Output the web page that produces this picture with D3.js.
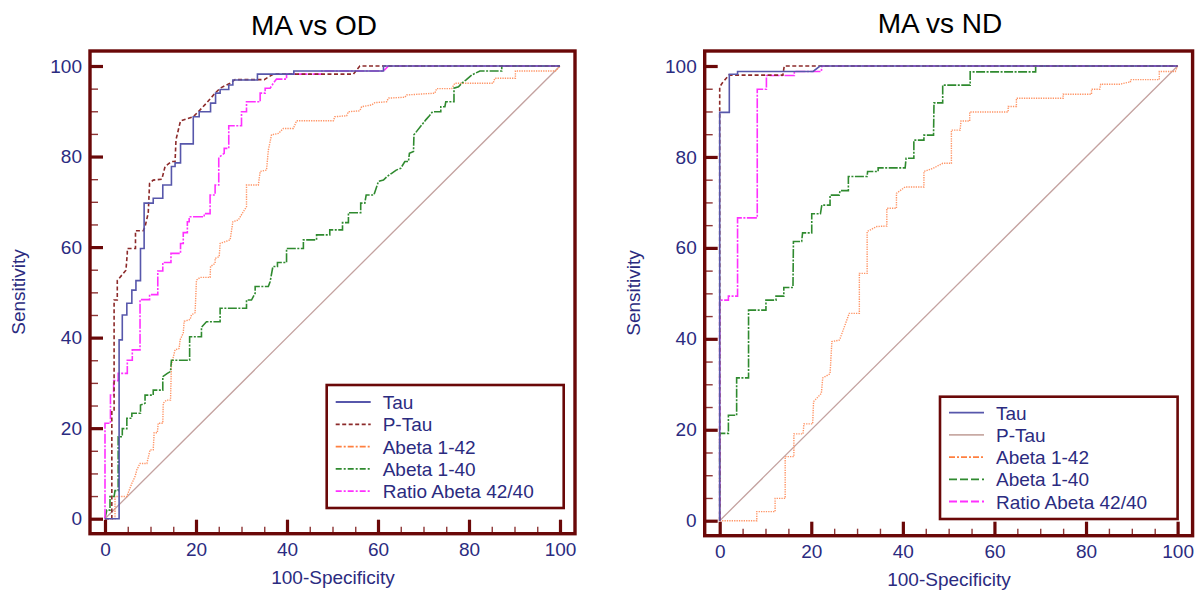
<!DOCTYPE html>
<html>
<head>
<meta charset="utf-8">
<script src="https://cdn.jsdelivr.net/npm/d3@7/dist/d3.min.js"></script>
<style>
  html, body { margin: 0; padding: 0; background: #fff; }
  svg { display: block; font-family: "Liberation Sans", Arial, sans-serif; }
</style>
</head>
<body>
<svg id="chart" width="1198" height="592"></svg>
<script>
// axis ticks
const majorTicks = [0, 20, 40, 60, 80, 100];
const minorTicks = [5, 10, 15, 25, 30, 35, 45, 50, 55, 65, 70, 75, 85, 90, 95];
const legendLabels = ["Tau", "P-Tau", "Abeta 1-42", "Abeta 1-40", "Ratio Abeta 42/40"];
const diagonal = [[0, 0], [100, 100]];

// ROC curves, [100-Specificity, Sensitivity] : MA vs OD
const tauOD = [[0,0],[3.1,0],[3.1,39.5],[3.8,39.5],[3.8,45],[4.8,45],[4.8,47.6],[5.9,47.6],[5.9,50.5],[6.8,50.5],[6.8,52.6],[7.8,52.6],[7.8,59.7],[8.6,59.7],[8.6,69.7],[10.6,69.7],[10.6,70.8],[12.7,70.8],[12.7,73.7],[14.6,73.7],[14.6,77.8],[15.4,77.8],[15.4,78.6],[16.6,78.6],[16.6,82.8],[19.4,82.8],[19.4,88.8],[20.7,88.8],[20.7,89.9],[23.2,89.9],[23.2,91.8],[24.3,91.8],[24.3,94],[25.3,94],[25.3,94.8],[27.2,94.8],[27.2,95.8],[28.1,95.8],[28.1,96.9],[33.5,96.9],[33.5,98.2],[41.5,98.2],[41.5,98.9],[61.2,98.9],[61.2,100],[100,100]];
const pTauOD = [[0,0],[1.5,0],[1.5,24],[2.0,24],[2.0,48.3],[2.7,48.3],[2.7,52.6],[4.6,54.9],[4.9,58.6],[4.9,59.7],[6.7,59.7],[6.7,63.6],[8.4,63.6],[8.8,64.5],[9.5,67.5],[9.8,74.1],[10.6,74.8],[12.5,75],[13.2,77.8],[14.6,78.9],[15.4,78.9],[15.6,83.7],[16.6,87.9],[19.4,88.8],[20.9,90.3],[22.3,91.8],[24.2,94],[25.3,95.1],[27.5,96.2],[28.6,97],[35,97],[37,98.2],[54.6,98.2],[56,100],[100,100]];
const ab42OD = [[0,0],[2.2,0],[2.2,4.9],[4.8,4.9],[5.9,7.8],[6.6,9.3],[7.0,10.8],[7.7,12.2],[9.2,12.2],[9.9,15.2],[10.6,15.2],[10.8,19.0],[11.5,19.0],[11.7,21.1],[12.7,21.1],[12.8,25.5],[13.5,26.2],[14.4,26.2],[14.6,34.0],[15.4,37.3],[16.3,37.6],[16.5,39.5],[17.2,41.0],[17.4,43.6],[18.7,44.0],[19.0,45.0],[19.8,45.5],[20.1,52.7],[20.9,53.3],[23.1,53.3],[23.2,55.7],[24.2,56.4],[24.2,57.5],[25.1,57.9],[25.3,60.8],[27.5,61.6],[28.1,65.6],[29.3,66.0],[30.4,67.8],[31.1,68.9],[31.1,73.7],[33.7,73.7],[34.1,76.7],[35.5,77.0],[35.9,81.4],[36.6,84.8],[38.1,85.1],[39.2,86.2],[41.4,86.2],[42.1,87.9],[50.2,87.9],[50.5,88.8],[53.1,89.0],[53.5,89.9],[56.0,90.1],[56.4,91.0],[58.6,91.4],[59.3,91.9],[61.9,92.1],[62.3,92.9],[65.9,93.1],[66.3,93.6],[72.5,94.0],[72.9,95.0],[76.2,95.0],[76.9,96.2],[85.3,96.2],[85.7,97.3],[90.2,97.3],[90.2,98.9],[99,98.9],[100,100]];
const ab40OD = [[0,0],[0.4,1.9],[1.1,1.9],[1.1,4.9],[2.0,4.9],[2.2,6.2],[2.9,6.2],[2.9,18.1],[3.8,18.1],[3.8,19.9],[4.8,19.9],[4.8,22.2],[5.9,22.2],[5.9,23.3],[7.8,23.3],[7.8,25.1],[8.8,25.5],[8.8,27.3],[10.6,27.3],[10.6,28.4],[12.7,28.4],[12.7,31.4],[13.7,32.1],[14.4,32.5],[14.6,35.0],[18.6,35.0],[18.6,40.2],[21.2,40.2],[21.2,42.3],[22.3,43.5],[25.3,43.5],[25.3,46.5],[31.1,46.5],[31.1,48.3],[32.2,48.3],[33,49.8],[33,51.3],[35.9,51.3],[36.3,52.4],[36.9,55.7],[37.9,55.7],[37.9,56.6],[39.9,56.6],[39.9,59.7],[43.6,59.7],[43.6,61.6],[46.5,61.6],[46.5,62.7],[49.4,62.7],[49.4,63.8],[52.2,63.8],[52.2,65.4],[53.5,65.4],[53.5,67.6],[56.2,67.6],[56.2,69.7],[57.1,69.7],[57.4,71.5],[59.1,71.5],[60.1,74.5],[61.2,74.8],[62.0,75.6],[63.0,76.3],[64.0,77.0],[65.0,77.4],[65.9,78.9],[66.7,78.9],[66.9,80.7],[67.8,81.1],[67.9,84.8],[70.5,88.1],[71.3,89.0],[72.0,89.9],[73.8,89.9],[73.8,91.0],[74.7,91.0],[74.9,92.1],[76.7,92.1],[76.7,95.1],[77.7,95.4],[78.4,96.2],[79.3,96.9],[80.6,98.0],[82.4,98.9],[87.2,98.9],[87.2,100],[100,100]];
const ratioOD = [[0,0],[0,21.1],[1.2,21.1],[1.2,27.3],[1.9,27.3],[1.9,30.5],[2.9,30.5],[2.9,32.1],[4.9,32.1],[4.9,35],[6,35],[6,37.3],[7.7,37.3],[7.7,48.4],[9.8,48.4],[9.8,49.5],[11.6,49.5],[11.6,54.7],[12.7,54.7],[12.7,56.6],[14.5,56.6],[14.5,58.6],[16.6,58.6],[16.6,60.8],[17.2,60.8],[17.2,63.2],[18.1,63.2],[18.1,65.6],[18.5,65.6],[18.5,66.7],[21.8,66.7],[21.8,67.4],[23.1,67.4],[23.1,71.5],[24.2,71.5],[24.2,73.7],[25.0,73.7],[25.0,79.8],[26.2,80.7],[26.2,81.8],[27.2,81.8],[27.2,86.8],[30,86.8],[30,89.9],[31.1,89.9],[31.1,92.1],[34.1,92.1],[34.1,94],[35.2,94],[35.2,95.1],[36.3,95.1],[37,96.2],[37.7,97.1],[39.9,97.1],[39.9,98.2],[47.6,98.2],[47.6,98.9],[61.2,98.9],[62.3,100],[100,100]];

// ROC curves : MA vs ND
const tauND = [[0,0],[0,89.8],[2.1,89.8],[2.1,98.2],[3.9,98.2],[3.9,98.8],[20.4,98.8],[21.9,100],[100,100]];
const pTauND = [[0,0],[0,95.4],[0.6,96.3],[2.0,98.0],[13.8,98.0],[14.1,100],[100,100]];
const ab42ND = [[0,0],[8.1,0],[8.1,2.0],[12.1,2.0],[12.1,4.9],[14.3,4.9],[14.3,14.1],[16.2,14.1],[16.2,19.1],[18.2,19.1],[18.4,21.3],[20.3,21.3],[20.5,26.2],[22.2,28.0],[22.5,31.4],[24.1,32.3],[24.5,39.4],[26.1,39.7],[26.3,40.1],[28.3,45.6],[30.5,45.6],[30.5,54.4],[32.2,54.4],[32.2,63.6],[34.3,64.7],[36.5,64.8],[36.5,68.7],[38.6,68.7],[38.6,72.0],[40.5,73.4],[44.6,73.4],[44.6,76.8],[46.6,77.5],[48.7,78.6],[50.6,78.6],[50.6,85.9],[52.5,85.9],[52.7,87.9],[54.6,87.9],[54.6,89.9],[63.0,89.9],[63.0,91.1],[64.8,91.1],[64.8,92.9],[75.0,92.9],[75.0,93.8],[81.2,93.8],[81.2,94.9],[83.0,94.9],[83.2,96.0],[87.4,96.0],[89.7,96.5],[89.7,97.0],[96.0,97.0],[96.0,98.8],[99.5,98.8],[100,100]];
const ab40ND = [[0,0],[0,19.2],[1.9,19.2],[1.9,23.2],[3.7,23.2],[3.7,31.4],[6.3,31.4],[6.3,46.3],[10.1,46.3],[10.1,48.5],[12.3,48.5],[12.3,49.4],[14.0,49.4],[14.0,51.3],[16.0,51.3],[16.1,61.4],[17.9,61.4],[18.1,63.3],[20.1,63.3],[20.1,67.5],[22.0,67.5],[22.3,69.4],[24.1,69.4],[24.1,71.6],[26.1,71.6],[26.3,72.6],[28.1,72.6],[28.1,75.7],[32.2,75.7],[32.3,76.8],[34.6,76.8],[34.6,77.6],[40.5,77.6],[40.7,79.7],[42.4,79.7],[42.4,83.7],[44.6,83.7],[44.6,84.8],[46.7,84.8],[46.8,91.9],[48.7,91.9],[48.7,95.8],[54.7,95.8],[54.7,98.7],[69.0,98.7],[69.0,100],[100,100]];
const ratioND = [[0,0],[0,48.5],[1.9,48.5],[1.9,49.4],[3.9,49.4],[3.9,66.6],[8.2,66.6],[8.2,94.9],[10.2,94.9],[10.2,97.9],[16.3,97.9],[16.3,98.8],[22.2,98.8],[22.3,100],[100,100]];

const frameColor = "#6a0808";
const minorColor = "#8e3636";
const textColor = "#2b2b80";
const diagColor = "#c4a2a0";

const st = {
  tau:   { color: "#5757ab", dash: null, width: 1.6 },
  ptau:  { color: "#8c2a2a", dash: "4,2.5", width: 1.6 },
  ab42:  { color: "#ff9465", dash: "1.3,1.1", width: 1.4 },
  ab40:  { color: "#2f8a2f", dash: "9,1.5,2,1.5", width: 1.6 },
  ratio: { color: "#ff30ff", dash: "10,1.5,2,1.5", width: 1.6 }
};

const svg = d3.select("#chart");

function drawPanel(p) {
  const x = d3.scaleLinear().domain([0, 100]).range([p.left, p.right]);
  const y = d3.scaleLinear().domain([0, 100]).range([p.bottom, p.top]);
  const pad = 15;
  const g = svg.append("g");

  g.append("text")
    .attr("x", p.titleX).attr("y", p.titleY)
    .attr("text-anchor", "middle")
    .attr("font-size", 28).attr("fill", "#000")
    .text(p.title);

  const fL = x(0) - pad, fR = x(100) + pad, fT = y(100) - pad, fB = y(0) + pad;

  // curves
  const line = d3.line().x(d => x(d[0])).y(d => y(d[1]));
  const curves = g.append("g");
  curves.append("path").attr("d", line(diagonal))
    .attr("fill", "none").attr("stroke", diagColor).attr("stroke-width", 1.3);
  p.series.forEach(s => {
    curves.append("path").attr("d", line(s.data))
      .attr("fill", "none")
      .attr("stroke", s.style.color)
      .attr("stroke-width", s.style.width)
      .attr("stroke-dasharray", s.style.dash)
      .attr("stroke-linejoin", "miter");
  });

  // minor ticks
  g.append("g").attr("transform", `translate(${fL},0)`)
    .call(d3.axisLeft(y).tickValues(minorTicks).tickSize(-8).tickFormat(""))
    .call(a => a.select(".domain").remove())
    .call(a => a.selectAll("line").attr("stroke", minorColor).attr("stroke-width", 1.4));
  g.append("g").attr("transform", `translate(0,${fB})`)
    .call(d3.axisBottom(x).tickValues(minorTicks).tickSize(-7).tickFormat(""))
    .call(a => a.select(".domain").remove())
    .call(a => a.selectAll("line").attr("stroke", minorColor).attr("stroke-width", 1.4));

  // major ticks + labels
  g.append("g").attr("transform", `translate(${fL},0)`)
    .call(d3.axisLeft(y).tickValues(majorTicks).tickSize(-13).tickPadding(8).tickFormat(d3.format("d")))
    .call(a => a.select(".domain").remove())
    .call(a => a.selectAll("line").attr("stroke", frameColor).attr("stroke-width", 3.2))
    .call(a => a.selectAll("text").attr("fill", textColor).attr("font-size", 19)
      .attr("font-family", "'Liberation Sans', Arial, sans-serif"));
  g.append("g").attr("transform", `translate(0,${fB})`)
    .call(d3.axisBottom(x).tickValues(majorTicks).tickSize(-14).tickPadding(9).tickFormat(d3.format("d")))
    .call(a => a.select(".domain").remove())
    .call(a => a.selectAll("line").attr("stroke", frameColor).attr("stroke-width", 3.2))
    .call(a => a.selectAll("text").attr("fill", textColor).attr("font-size", 19)
      .attr("font-family", "'Liberation Sans', Arial, sans-serif"));

  // frame
  g.append("rect")
    .attr("x", fL).attr("y", fT)
    .attr("width", fR - fL).attr("height", fB - fT)
    .attr("fill", "none").attr("stroke", frameColor).attr("stroke-width", 3.4);

  // axis titles
  g.append("text")
    .attr("transform", `translate(${p.yLabelX},${p.yLabelY}) rotate(-90)`)
    .attr("text-anchor", "middle").attr("font-size", 19).attr("fill", textColor)
    .text("Sensitivity");
  g.append("text")
    .attr("x", p.xLabelX).attr("y", p.xLabelY)
    .attr("text-anchor", "middle").attr("font-size", 19).attr("fill", textColor)
    .text("100-Specificity");

  // legend
  const L = p.legend;
  const lg = g.append("g");
  lg.append("rect")
    .attr("x", L.x).attr("y", L.y).attr("width", L.w).attr("height", L.h)
    .attr("fill", "#fff").attr("stroke", frameColor).attr("stroke-width", 2.6);
  legendLabels.forEach((lab, i) => {
    const cy = L.row0 + i * L.step;
    const s = L.styles[i];
    lg.append("line")
      .attr("x1", L.x + 9).attr("x2", L.x + 44)
      .attr("y1", cy).attr("y2", cy)
      .attr("stroke", s.color).attr("stroke-width", 1.8)
      .attr("stroke-dasharray", s.dash);
    lg.append("text")
      .attr("x", L.x + 56).attr("y", cy + 7)
      .attr("font-size", 19).attr("fill", textColor)
      .text(lab);
  });
}

drawPanel({
  title: "MA vs OD", titleX: 314, titleY: 35,
  left: 105, right: 560, bottom: 518.7, top: 66,
  yLabelX: 25, yLabelY: 292, xLabelX: 333, xLabelY: 584,
  series: [
    { data: ab42OD, style: st.ab42 },
    { data: ab40OD, style: st.ab40 },
    { data: ratioOD, style: st.ratio },
    { data: pTauOD, style: st.ptau },
    { data: tauOD, style: st.tau }
  ],
  legend: {
    x: 326.7, y: 385, w: 237, h: 123, row0: 402, step: 22.3,
    styles: [
      st.tau, st.ptau,
      { color: "#ff8040", dash: "6,2,2,2" },
      { color: "#2f8a2f", dash: "6,2,2,2" },
      { color: "#ff30ff", dash: "6,2,2,2" }
    ]
  }
});

drawPanel({
  title: "MA vs ND", titleX: 940, titleY: 33,
  left: 719.7, right: 1177.6, bottom: 520.7, top: 66,
  yLabelX: 640, yLabelY: 293, xLabelX: 949, xLabelY: 586,
  series: [
    { data: ab42ND, style: st.ab42 },
    { data: ab40ND, style: st.ab40 },
    { data: ratioND, style: st.ratio },
    { data: pTauND, style: st.ptau },
    { data: tauND, style: st.tau }
  ],
  legend: {
    x: 940, y: 396.7, w: 237.6, h: 122.3, row0: 412.7, step: 22.2,
    styles: [
      st.tau,
      { color: "#c8aaa4", dash: null },
      { color: "#ff8040", dash: "6,2,2,2" },
      { color: "#2f8a2f", dash: "8,3" },
      { color: "#ff30ff", dash: "8,3" }
    ]
  }
});
</script>
</body>
</html>
